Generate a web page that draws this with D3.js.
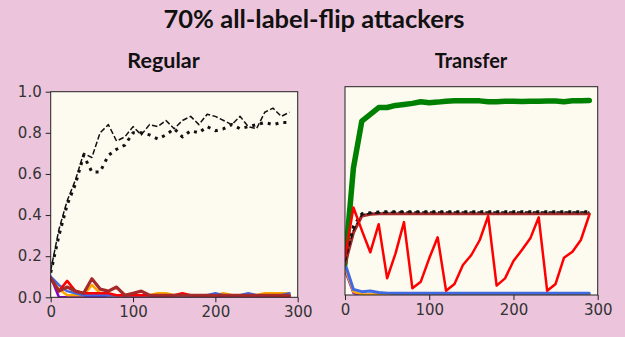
<!DOCTYPE html>
<html>
<head>
<meta charset="utf-8">
<script src="https://cdn.jsdelivr.net/npm/d3@7"></script>
<style>
  html, body { margin: 0; padding: 0; background: #ecc5dc; }
  svg { display: block; }
  .tick text { font-family: "DejaVu Sans", sans-serif; font-size: 15px; fill: #333; }
</style>
</head>
<body>
<svg id="chart" width="625" height="337"></svg>
<script>
// Training rounds (x axis)
const rounds = d3.range(0, 300, 10);
const xTicks = [0, 100, 200, 300];
const yTicks = [0, 0.2, 0.4, 0.6, 0.8, 1.0];

// Regular training
const regDashed = [0.13, 0.33, 0.47, 0.57, 0.70, 0.68, 0.80, 0.84, 0.76, 0.78, 0.83, 0.79, 0.84, 0.83, 0.86, 0.82, 0.86, 0.88, 0.84, 0.89, 0.88, 0.86, 0.84, 0.88, 0.83, 0.82, 0.90, 0.92, 0.88, 0.90];
const regDotted = [0.12, 0.30, 0.45, 0.55, 0.69, 0.61, 0.61, 0.69, 0.72, 0.74, 0.80, 0.80, 0.79, 0.77, 0.79, 0.82, 0.78, 0.81, 0.80, 0.83, 0.81, 0.82, 0.84, 0.82, 0.83, 0.84, 0.85, 0.84, 0.85, 0.85];
const regPurple = [0.10, 0.00, 0.00, 0.00, 0.00, 0.00, 0.00, 0.00, 0.00, 0.00, 0.00, 0.00, 0.00, 0.00, 0.00, 0.00, 0.00, 0.00, 0.00, 0.00, 0.00, 0.00, 0.00, 0.00, 0.00, 0.00, 0.00, 0.00, 0.00, 0.00];
const regOrange = [0.09, 0.04, 0.01, 0.01, 0.01, 0.06, 0.02, 0.01, 0.01, 0.01, 0.01, 0.01, 0.01, 0.02, 0.02, 0.01, 0.01, 0.01, 0.01, 0.01, 0.01, 0.02, 0.01, 0.01, 0.01, 0.01, 0.02, 0.02, 0.02, 0.02];
const regBlue = [0.10, 0.06, 0.03, 0.02, 0.01, 0.01, 0.01, 0.01, 0.01, 0.01, 0.01, 0.01, 0.01, 0.01, 0.01, 0.01, 0.01, 0.01, 0.01, 0.01, 0.02, 0.01, 0.01, 0.01, 0.02, 0.01, 0.01, 0.01, 0.01, 0.02];
const regRed = [0.09, 0.03, 0.08, 0.03, 0.02, 0.02, 0.02, 0.02, 0.01, 0.01, 0.01, 0.01, 0.01, 0.01, 0.01, 0.01, 0.02, 0.01, 0.01, 0.01, 0.01, 0.01, 0.01, 0.01, 0.01, 0.01, 0.01, 0.01, 0.005, 0.005];
const regBrown = [0.094, 0.03, 0.05, 0.03, 0.02, 0.09, 0.04, 0.03, 0.05, 0.01, 0.02, 0.03, 0.01, 0.01, 0.01, 0.01, 0.01, 0.01, 0.01, 0.01, 0.01, 0.01, 0.01, 0.01, 0.01, 0.01, 0.01, 0.01, 0.01, 0.01];

// Transfer training
const trGreen = [0.15, 0.61, 0.835, 0.867, 0.90, 0.90, 0.91, 0.915, 0.92, 0.928, 0.923, 0.926, 0.93, 0.932, 0.933, 0.933, 0.932, 0.928, 0.928, 0.93, 0.93, 0.929, 0.93, 0.93, 0.931, 0.931, 0.928, 0.933, 0.933, 0.934];
const trDotted = [0.17, 0.33, 0.39, 0.395, 0.398, 0.40, 0.40, 0.40, 0.40, 0.40, 0.40, 0.40, 0.40, 0.40, 0.40, 0.40, 0.40, 0.40, 0.40, 0.40, 0.40, 0.40, 0.40, 0.40, 0.40, 0.40, 0.40, 0.40, 0.40, 0.40];
const trDashed = [0.16, 0.31, 0.385, 0.392, 0.395, 0.397, 0.398, 0.398, 0.398, 0.398, 0.398, 0.398, 0.398, 0.398, 0.398, 0.398, 0.398, 0.398, 0.398, 0.398, 0.398, 0.398, 0.398, 0.398, 0.398, 0.398, 0.398, 0.398, 0.398, 0.398];
const trBrown = [0.15, 0.30, 0.38, 0.388, 0.39, 0.39, 0.39, 0.39, 0.39, 0.39, 0.39, 0.39, 0.39, 0.39, 0.39, 0.39, 0.39, 0.39, 0.39, 0.39, 0.39, 0.39, 0.39, 0.39, 0.39, 0.39, 0.39, 0.39, 0.39, 0.39];
const trRed = [0.18, 0.42, 0.31, 0.205, 0.34, 0.08, 0.20, 0.35, 0.032, 0.064, 0.176, 0.277, 0.02, 0.053, 0.144, 0.192, 0.264, 0.38, 0.045, 0.08, 0.163, 0.216, 0.272, 0.373, 0.02, 0.053, 0.179, 0.208, 0.264, 0.384];
const trPurple = [0.12, 0.01, 0.00, 0.00, 0.00, 0.00, 0.00, 0.00, 0.00, 0.00, 0.00, 0.00, 0.00, 0.00, 0.00, 0.00, 0.00, 0.00, 0.00, 0.00, 0.00, 0.00, 0.00, 0.00, 0.00, 0.00, 0.00, 0.00, 0.00, 0.00];
const trOrange = [0.13, 0.015, 0.003, 0.003, 0.003, 0.003, 0.003, 0.003, 0.003, 0.003, 0.003, 0.003, 0.003, 0.003, 0.003, 0.003, 0.003, 0.003, 0.003, 0.003, 0.003, 0.003, 0.003, 0.003, 0.003, 0.003, 0.003, 0.003, 0.003, 0.003];
const trBlue = [0.152, 0.027, 0.016, 0.019, 0.012, 0.009, 0.008, 0.008, 0.008, 0.008, 0.008, 0.008, 0.008, 0.008, 0.008, 0.008, 0.008, 0.008, 0.008, 0.008, 0.008, 0.008, 0.008, 0.008, 0.008, 0.008, 0.008, 0.008, 0.008, 0.008];

const svg = d3.select("#chart");
svg.append("rect").attr("width", 625).attr("height", 337).attr("fill", "#ecc5dc");

svg.append("text")
  .attr("x", 314).attr("y", 27.5)
  .attr("text-anchor", "middle")
  .style("font-family", "Lato, sans-serif").style("font-weight", 700).style("font-size", "25.5px")
  .attr("fill", "#111")
  .text("70% all-label-flip attackers");

function panel(opts) {
  const { left, right, top, bottom, title, titleX, titleSize, showY, series, id } = opts;
  const x = d3.scaleLinear().domain([0, 300]).range([left, right]);
  const y = d3.scaleLinear().domain([0, 1]).range([bottom, top]);
  const g = svg.append("g");

  g.append("text")
    .attr("x", titleX).attr("y", 67.5)
    .attr("text-anchor", "middle")
    .style("font-family", "Lato, sans-serif").style("font-weight", 700).style("font-size", titleSize)
    .attr("fill", "#111")
    .text(title);

  g.append("rect")
    .attr("x", left).attr("y", top).attr("width", right - left).attr("height", bottom - top)
    .attr("fill", "#fdfaf0");

  g.append("clipPath").attr("id", id)
    .append("rect").attr("x", left).attr("y", top).attr("width", right - left).attr("height", bottom - top);

  const lines = g.append("g").attr("clip-path", `url(#${id})`);
  const line = d3.line().x((d, i) => x(rounds[i])).y(d => y(d));
  series.forEach(s => {
    lines.append("path")
      .datum(s.values)
      .attr("d", line)
      .attr("fill", "none")
      .attr("stroke", s.color)
      .attr("stroke-width", s.width)
      .attr("stroke-dasharray", s.dash || null)
      .attr("stroke-linejoin", "round")
      .attr("stroke-linecap", s.dash ? "butt" : "round");
  });

  g.append("rect")
    .attr("x", left).attr("y", top).attr("width", right - left).attr("height", bottom - top)
    .attr("fill", "none").attr("stroke", "#222").attr("stroke-width", 1);

  const xAxis = g.append("g").attr("transform", `translate(0,${bottom})`)
    .call(d3.axisBottom(x).tickValues(xTicks).tickSize(5).tickPadding(4).tickFormat(d3.format("d")));
  xAxis.select(".domain").remove();
  xAxis.selectAll("line").attr("stroke", "#222");

  if (showY) {
    const yAxis = g.append("g").attr("transform", `translate(${left},0)`)
      .call(d3.axisLeft(y).tickValues(yTicks).tickSize(5).tickPadding(4).tickFormat(d3.format(".1f")));
    yAxis.select(".domain").remove();
    yAxis.selectAll("line").attr("stroke", "#222");
  }
}

panel({
  id: "clipReg", left: 50.7, right: 297.7, top: 91.7, bottom: 297.3,
  title: "Regular", titleX: 163.5, titleSize: "21.5px", showY: true,
  series: [
    { values: regPurple, color: "#8a00d4", width: 2.5 },
    { values: regOrange, color: "#ffa500", width: 2.5 },
    { values: regBlue, color: "#4169e1", width: 2.5 },
    { values: regRed, color: "#ff0000", width: 2.5 },
    { values: regBrown, color: "#a52a2a", width: 3.2 },
    { values: regDashed, color: "#111", width: 1.5, dash: "5.5,2.4" },
    { values: regDotted, color: "#111", width: 3, dash: "3,5" }
  ]
});

panel({
  id: "clipTr", left: 345, right: 597.7, top: 86.7, bottom: 295,
  title: "Transfer", titleX: 471, titleSize: "20px", showY: false,
  series: [
    { values: trPurple, color: "#8a00d4", width: 2.5 },
    { values: trOrange, color: "#ffa500", width: 2.5 },
    { values: trBlue, color: "#4169e1", width: 3 },
    { values: trGreen, color: "#008000", width: 5.5 },
    { values: trBrown, color: "#a52a2a", width: 3.2 },
    { values: trDashed, color: "#111", width: 1.5, dash: "5.5,2.4" },
    { values: trDotted, color: "#111", width: 3, dash: "3,5" },
    { values: trRed, color: "#ff0000", width: 2.5 }
  ]
});
</script>
</body>
</html>
